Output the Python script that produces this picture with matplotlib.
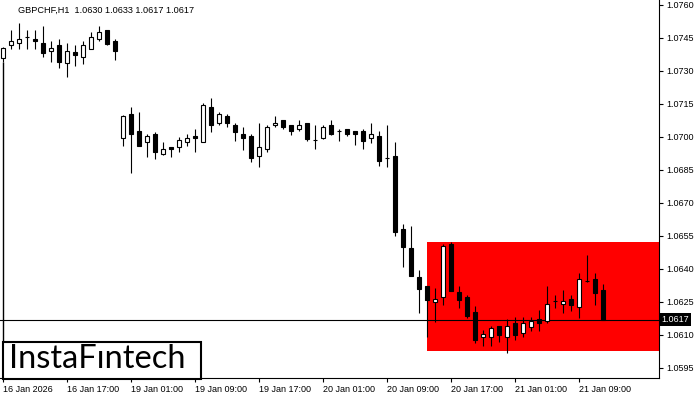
import matplotlib
matplotlib.use("Agg")
import numpy as np
import matplotlib.pyplot as plt
from matplotlib.patches import Rectangle

# GBPCHF H1 candles (open, high, low, close)
opens = [1.07358, 1.07417, 1.07426, 1.07455, 1.07444, 1.07426, 1.07392, 1.07417, 1.07335, 1.07385,
         1.07365, 1.07401, 1.07444, 1.07486, 1.07435, 1.06994, 1.07105, 1.07027, 1.06976, 1.07014,
         1.06921, 1.06953, 1.06953, 1.06976, 1.07003, 1.06979, 1.07136, 1.07062, 1.07095, 1.07055,
         1.07014, 1.07005, 1.06912, 1.06944, 1.07053, 1.07077, 1.07055, 1.07035, 1.07064, 1.06988,
         1.06994, 1.07055, 1.07026, 1.07035, 1.07026, 1.07026, 1.06994, 1.07003, 1.06903, 1.06914,
         1.06582, 1.06495, 1.06364, 1.06323, 1.06251, 1.06271, 1.06514, 1.06294, 1.06271, 1.06205,
         1.06090, 1.06090, 1.06141, 1.06090, 1.06153, 1.06110, 1.06138, 1.06171, 1.06162, 1.06253,
         1.06240, 1.06262, 1.06229, 1.06344, 1.06353, 1.06305]
highs = [1.07409, 1.07486, 1.07517, 1.07486, 1.07486, 1.07505, 1.07436, 1.07444, 1.07426, 1.07417,
         1.07435, 1.07476, 1.07505, 1.07488, 1.07444, 1.07098, 1.07136, 1.07114, 1.07015, 1.07023,
         1.06977, 1.06955, 1.07001, 1.07012, 1.07036, 1.07153, 1.07176, 1.07114, 1.07105, 1.07065,
         1.07044, 1.07014, 1.07062, 1.07055, 1.07095, 1.07077, 1.07055, 1.07077, 1.07064, 1.07055,
         1.07055, 1.07077, 1.07035, 1.07036, 1.07027, 1.07035, 1.07064, 1.07026, 1.07055, 1.06977,
         1.06605, 1.06595, 1.06395, 1.06323, 1.06314, 1.06514, 1.06523, 1.06323, 1.06282, 1.06232,
         1.06123, 1.06141, 1.06141, 1.06171, 1.06180, 1.06180, 1.06180, 1.06214, 1.06323, 1.06282,
         1.06305, 1.06282, 1.06383, 1.06464, 1.06383, 1.06332]
lows = [1.07341, 1.07401, 1.07401, 1.07401, 1.07401, 1.07365, 1.07342, 1.07315, 1.07274, 1.07324,
        1.07333, 1.07398, 1.07435, 1.07420, 1.07351, 1.06959, 1.06835, 1.06959, 1.06910, 1.06901,
        1.06919, 1.06910, 1.06933, 1.06960, 1.06933, 1.06976, 1.07024, 1.07053, 1.07044, 1.06983,
        1.06941, 1.06885, 1.06862, 1.06933, 1.07044, 1.07035, 1.07009, 1.07026, 1.06983, 1.06944,
        1.06993, 1.07011, 1.06983, 1.07003, 1.06962, 1.06944, 1.06974, 1.06870, 1.06862, 1.06550,
        1.06410, 1.06368, 1.06201, 1.06090, 1.06160, 1.06236, 1.06300, 1.06221, 1.06179, 1.06062,
        1.06050, 1.06050, 1.06068, 1.06020, 1.06077, 1.06090, 1.06120, 1.06120, 1.06153, 1.06221,
        1.06201, 1.06210, 1.06176, 1.06341, 1.06236, 1.06170]
closes = [1.07403, 1.07435, 1.07444, 1.07455, 1.07435, 1.07383, 1.07403, 1.07342, 1.07392, 1.07374,
          1.07417, 1.07453, 1.07476, 1.07423, 1.07392, 1.07095, 1.07012, 1.06960, 1.07003, 1.06933,
          1.06944, 1.06944, 1.06985, 1.06994, 1.06994, 1.07145, 1.07053, 1.07105, 1.07062, 1.07024,
          1.06994, 1.06903, 1.06953, 1.07044, 1.07064, 1.07044, 1.07026, 1.07055, 1.06991, 1.06988,
          1.07044, 1.07012, 1.07026, 1.07012, 1.07012, 1.06983, 1.07012, 1.06892, 1.06903, 1.06570,
          1.06501, 1.06370, 1.06310, 1.06259, 1.06262, 1.06505, 1.06301, 1.06260, 1.06188, 1.06077,
          1.06105, 1.06130, 1.06101, 1.06140, 1.06101, 1.06153, 1.06162, 1.06153, 1.06240, 1.06253,
          1.06253, 1.06236, 1.06353, 1.06344, 1.06292, 1.06170]

time_labels = ["16 Jan 2026", "16 Jan 17:00", "19 Jan 01:00", "19 Jan 09:00", "19 Jan 17:00",
               "20 Jan 01:00", "20 Jan 09:00", "20 Jan 17:00", "21 Jan 01:00", "21 Jan 09:00"]
label_step = 8  # one label every 8 hourly bars
price_ticks = [1.0595, 1.0610, 1.0625, 1.0640, 1.0655, 1.0670, 1.0685,
               1.0700, 1.0715, 1.0730, 1.0745, 1.0760]

# pattern zone and current bid
zone_start = 53
zone_low, zone_high = 1.06027, 1.06523
bid = 1.0617
title = "GBPCHF,H1  1.0630 1.0633 1.0617 1.0617"
logo = "InstaF\u0131ntech"


def draw_chart():
    o, h, l, c = map(np.array, (opens, highs, lows, closes))
    idx = np.arange(len(o))

    fig = plt.figure(figsize=(7, 4), dpi=100)
    ax = fig.add_axes([0, 22 / 400, 659 / 700, 378 / 400])
    x_lo, x_hi = -0.375, 82.0
    y_lo, y_hi = 1.059045, 1.076227
    ax.set_xlim(x_lo, x_hi)
    ax.set_ylim(y_lo, y_hi)

    # red zone box, runs to the right edge
    ax.add_patch(Rectangle((zone_start, zone_low), x_hi - zone_start, zone_high - zone_low,
                           facecolor="#ff0000", edgecolor="none", zorder=1))

    # bid line
    ax.axhline(bid, color="black", lw=0.8, zorder=2)

    # odd partial left border under the first bar
    ax.vlines(0, y_lo, l[0], color="black", lw=1.0, zorder=3)

    # wicks + bodies
    width = 0.62
    ax.vlines(idx, l, h, color="black", lw=0.8, zorder=3)
    up = c > o
    down = c < o
    flat = c == o
    ax.bar(idx[up], (c - o)[up], width, bottom=o[up], facecolor="white",
           edgecolor="black", lw=0.8, zorder=4)
    ax.bar(idx[down], (o - c)[down], width, bottom=c[down], facecolor="black",
           edgecolor="black", lw=0.8, zorder=4)
    ax.hlines(o[flat], idx[flat] - width / 2, idx[flat] + width / 2, color="black", lw=0.8, zorder=4)

    # axes look
    for side in ("top", "left"):
        ax.spines[side].set_visible(False)
    for side in ("bottom", "right"):
        ax.spines[side].set_linewidth(0.8)
    ax.yaxis.tick_right()
    ax.set_yticks(price_ticks)
    ax.set_yticklabels([f"{p:.4f}" for p in price_ticks])
    ax.set_xticks(np.arange(len(time_labels)) * label_step)
    ax.set_xticklabels(time_labels, ha="left")
    ax.tick_params(axis="both", length=3, width=0.8, labelsize=6.5, pad=2)
    for t in ax.get_xticklabels() + ax.get_yticklabels():
        t.set_fontfamily("Liberation Sans")

    ax.text(18 / 659, 1 - 10 / 378, title, transform=ax.transAxes, fontsize=6.6,
            family="Liberation Sans", va="center", ha="left")

    # bid price tag on the right scale
    ax.text(1.004, bid, f"{bid:.4f}", transform=ax.get_yaxis_transform(), fontsize=6.5,
            family="Liberation Sans", color="white", va="center", ha="left", clip_on=False,
            bbox=dict(boxstyle="square,pad=0.2", facecolor="black", edgecolor="none"))

    # logo box at the bottom left
    fig.add_artist(Rectangle((3 / 700, 21 / 400), 198 / 700, 37 / 400, transform=fig.transFigure,
                             facecolor="white", edgecolor="black", lw=1.5, zorder=10))
    fig.text(97 / 700, 41 / 400, logo, fontsize=23.5, family="Lato", va="center", ha="center",
             zorder=11)

    fig.savefig("out.png", dpi=100)


if __name__ == "__main__":
    draw_chart()
